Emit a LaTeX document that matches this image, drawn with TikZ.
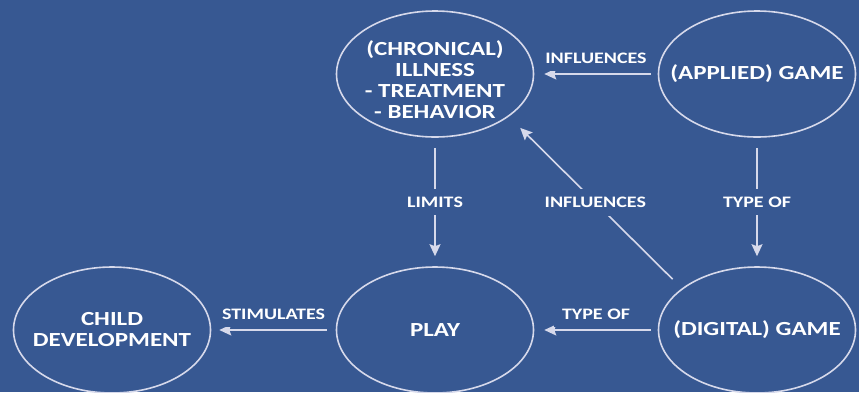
\documentclass[tikz,border=0pt]{standalone}
\usepackage{fontspec}
\setmainfont[FakeStretch=1.25]{Carlito}
\usetikzlibrary{shapes.geometric}
\usetikzlibrary{arrows.meta}

\definecolor{bgblue}{HTML}{375892}
\definecolor{linegray}{HTML}{D6D9EB}

\begin{document}
\begin{tikzpicture}[x=1pt,y=-1pt,
    concept/.style={ellipse,draw=linegray,line width=1.6pt,minimum width=197pt,minimum height=126pt,inner sep=-20pt,text=white,align=center,font=\bfseries\fontsize{20}{21}\selectfont},
    rel/.style={fill=bgblue,text=white,inner sep=8pt,font=\bfseries\fontsize{16}{16}\selectfont},
    link/.style={draw=linegray,line width=1.6pt,shorten >=10pt,-{Stealth[length=12pt,width=11pt,inset=2pt]}}]
    \useasboundingbox (0,0) rectangle (859,392);
    \fill [bgblue] (0,0) rectangle (859,392);
    \node[concept] (ill) at (435,74) {\rule{0pt}{27pt}(CHRONICAL)\\ILLNESS\\- TREATMENT\\- BEHAVIOR};
    \node[concept] (app) at (757,74) {(APPLIED) GAME};
    \node[concept] (play) at (435,330) {PLAY};
    \node[concept] (dig) at (757,330) {(DIGITAL) GAME};
    \node[concept] (child) at (112,330) {CHILD\\DEVELOPMENT};
    \draw [link,shorten <=7pt] (app.west) -- node[rel,above=2pt] {INFLUENCES} (ill.east);
    \draw [link,shorten <=10pt] (ill.south) -- node[rel] {LIMITS} (play.north);
    \draw [link,shorten <=10pt] (app.south) -- node[rel] {TYPE OF} (dig.north);
    \draw [link,shorten <=13pt,shorten >=16pt] (dig.151) -- node[rel] {INFLUENCES} (ill.-30);
    \draw [link,shorten <=7pt] (dig.west) -- node[rel,above=2pt] {TYPE OF} (play.east);
    \draw [link,shorten <=9pt,shorten >=8pt] (play.west) -- node[rel,above=2pt] {STIMULATES} (child.east);
  \end{tikzpicture}
\end{document}
